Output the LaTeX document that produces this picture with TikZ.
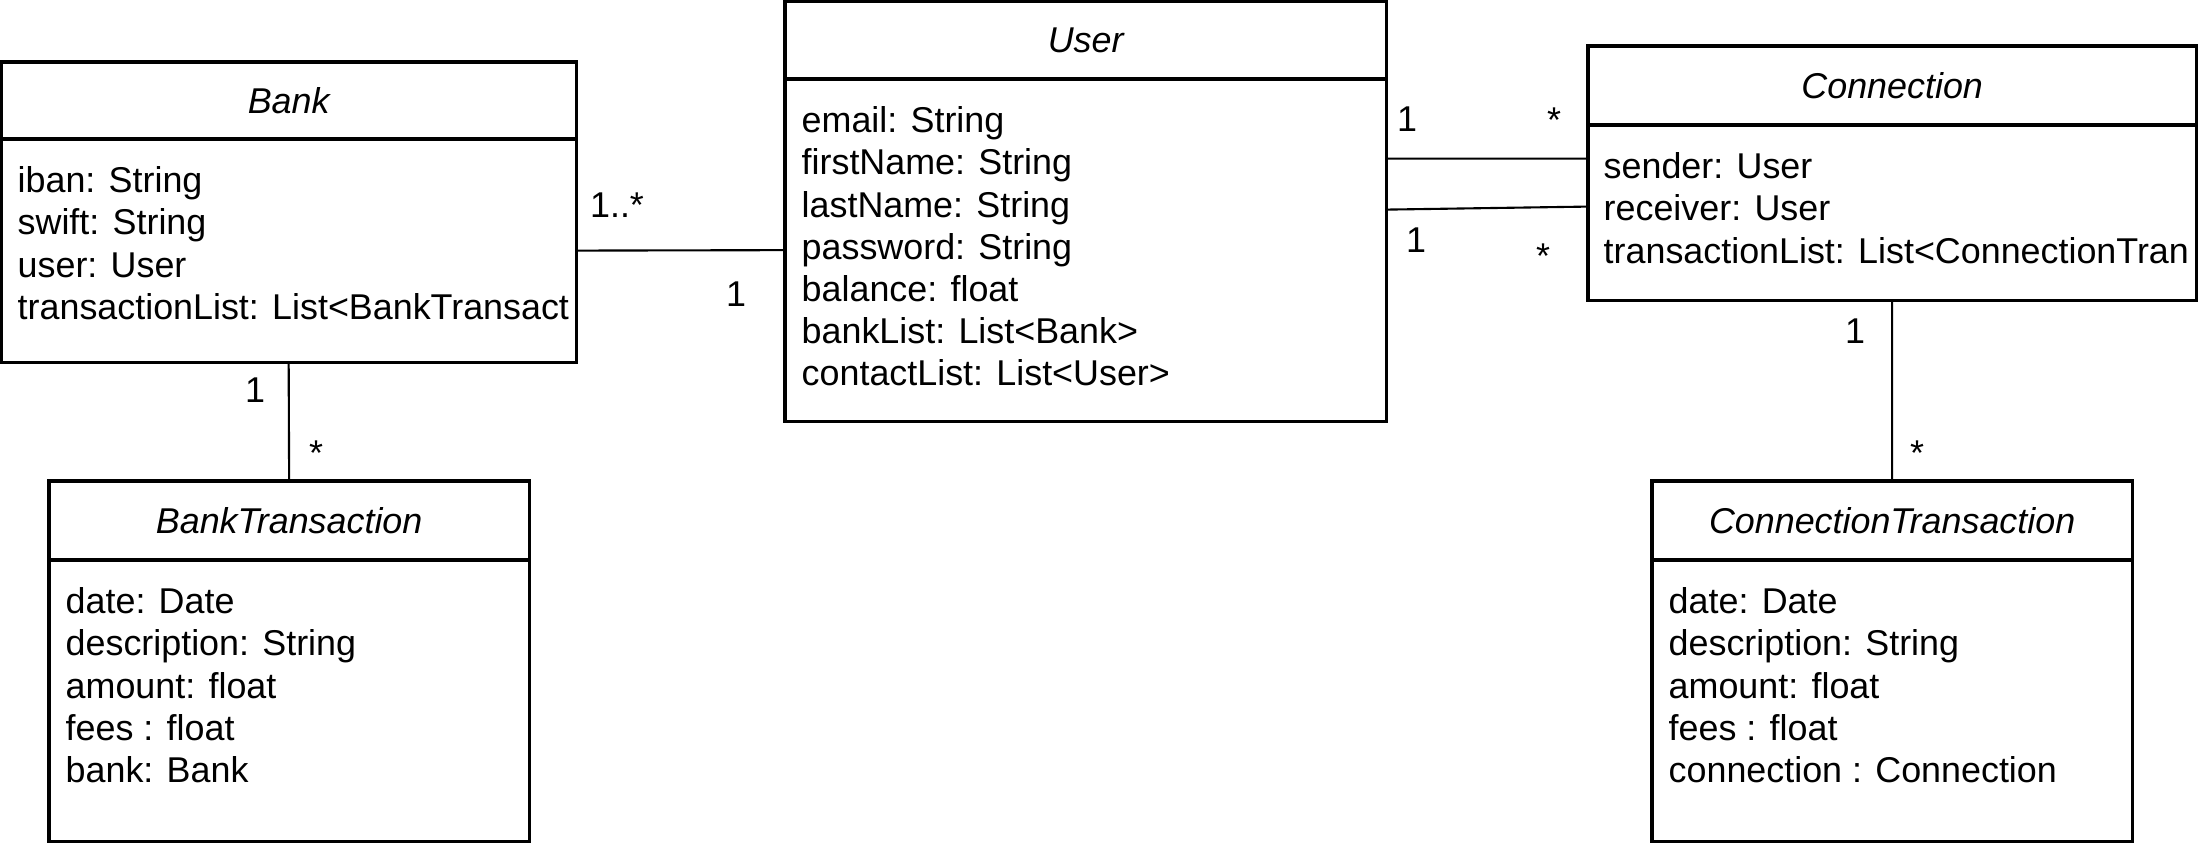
\documentclass[tikz,border=0pt]{standalone}
\usepackage{fontspec}
\setmainfont{Liberation Sans}
\usetikzlibrary{positioning}

\begin{document}
\begin{tikzpicture}[x=0.01cm, y=-0.01cm,
	every node/.style={font=\fontsize{10.2}{12}\selectfont},
	classhead/.style={draw, line width=0.9pt, anchor=north west, inner sep=0pt, outer sep=0pt, font=\fontsize{10.2}{12}\selectfont\itshape},
	classbody/.style={draw, line width=0.9pt, anchor=north, inner sep=0pt, outer sep=0pt},
	attrs/.style={anchor=north west, align=left, inner sep=0pt},
	mult/.style={anchor=base, inner sep=0pt},
	assoc/.style={line width=0.6pt}]
	\useasboundingbox (0, 0) rectangle (2199, 852);
	% Classes:
	\node[classhead, minimum width=5.75cm, minimum height=0.77cm] (bank) at (1, 62){Bank};
	\node[classbody, minimum width=5.75cm, minimum height=2.23cm, below=0pt of bank] (bank-body){};
	\node[attrs] (bank-attrs) at (17, 166){iban: String\\swift: String\\user: User\\transactionList: List<BankTransact};
	\node[classhead, minimum width=6.01cm, minimum height=0.78cm] (user) at (785, 1){User};
	\node[classbody, minimum width=6.01cm, minimum height=3.42cm, below=0pt of user] (user-body){};
	\node[attrs] (user-attrs) at (801, 106){email: String\\firstName: String\\lastName: String\\password: String\\balance: float\\bankList: List<Bank>\\contactList: List<User>};
	\node[classhead, minimum width=6.08cm, minimum height=0.79cm] (conn) at (1588, 46){Connection};
	\node[classbody, minimum width=6.08cm, minimum height=1.75cm, below=0pt of conn] (conn-body){};
	\node[attrs] (conn-attrs) at (1603, 152){sender: User\\receiver: User\\transactionList: List<ConnectionTran};
	\node[classhead, minimum width=4.8cm, minimum height=0.79cm] (banktx) at (49, 481){BankTransaction};
	\node[classbody, minimum width=4.8cm, minimum height=2.81cm, below=0pt of banktx] (banktx-body){};
	\node[attrs] (banktx-attrs) at (65, 587){date: Date\\description: String\\amount: float\\fees : float\\bank: Bank};
	\node[classhead, minimum width=4.8cm, minimum height=0.79cm] (conntx) at (1652, 481){ConnectionTransaction};
	\node[classbody, minimum width=4.8cm, minimum height=2.81cm, below=0pt of conntx] (conntx-body){};
	\node[attrs] (conntx-attrs) at (1668, 587){date: Date\\description: String\\amount: float\\fees : float\\connection : Connection};
	% Associations:
	\draw[assoc] (bank-body.east) -- (user-body.west);
	\draw[assoc] ([yshift=0.915cm]user-body.east) -- ([yshift=0.54cm]conn-body.west);
	\draw[assoc] ([yshift=0.405cm]user-body.east) -- ([yshift=0.06cm]conn-body.west);
	\draw[assoc] (bank-body.south) -- (banktx.north);
	\draw[assoc] (conn-body.south) -- (conntx.north);
	% Multiplicities:
	\node[mult] (m-bank) at (617, 218){1..*};
	\node[mult] (m-user-bank) at (736, 307){1};
	\node[mult] (m-user-send) at (1407, 132){1};
	\node[mult] (m-conn-send) at (1554, 133){*};
	\node[mult] (m-user-recv) at (1416, 253){1};
	\node[mult] (m-conn-recv) at (1543, 269){*};
	\node[mult] (m-conn-tx) at (1855, 344){1};
	\node[mult] (m-conntx) at (1917, 466){*};
	\node[mult] (m-bank-tx) at (255, 403){1};
	\node[mult] (m-banktx) at (316, 466){*};
\end{tikzpicture}
\end{document}
